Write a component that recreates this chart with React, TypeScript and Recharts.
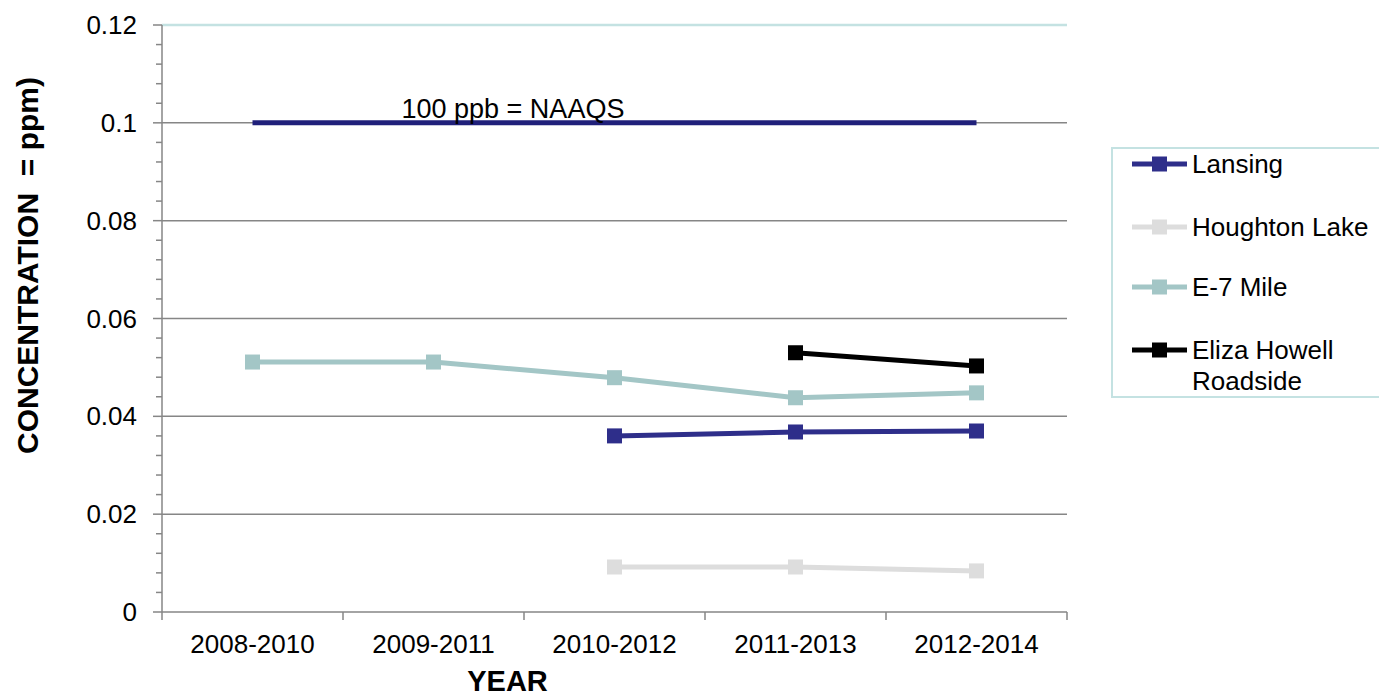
import React from 'react'
import { LineChart, Line, XAxis, YAxis, Legend, ReferenceLine } from 'recharts'

const years = ['2008-2010', '2009-2011', '2010-2012', '2011-2013', '2012-2014']
const naaqs = [0.1, 0.1, 0.1, 0.1, 0.1]
const lansing = [null, null, 0.036, 0.0368, 0.037]
const houghtonLake = [null, null, 0.0092, 0.0092, 0.0084]
const e7Mile = [0.0511, 0.0511, 0.0479, 0.0438, 0.0448]
const elizaHowell = [null, null, null, 0.053, 0.0503]
const yMajorTicks = [0, 0.02, 0.04, 0.06, 0.08, 0.1, 0.12]

const yTicks: number[] = []
yMajorTicks.forEach((v, i) => {
  if (i === 0) { yTicks.push(v); return }
  for (let k = 4; k >= 0; k--) yTicks.push(+(v - k * 0.004).toFixed(3))
})

const data = years.map((year, i) => ({
  year,
  naaqs: naaqs[i],
  lansing: lansing[i],
  houghton: houghtonLake[i],
  e7: e7Mile[i],
  eliza: elizaHowell[i],
}))

const W = 1379
const H = 698
const LEFT = 162
const RIGHT = 312
const TOP = 25
const BOTTOM = 86
const BAND = (W - LEFT - RIGHT) / years.length
const FONT = 'Liberation Sans, Arial, sans-serif'
const AXIS_GRAY = '#868686'
const BORDER = '#c4e2e2'

const series = [
  { key: 'lansing', name: 'Lansing', color: '#2e2e8a' },
  { key: 'houghton', name: 'Houghton Lake', color: '#dddddd' },
  { key: 'e7', name: 'E-7 Mile', color: '#a3c6c6' },
  { key: 'eliza', name: 'Eliza Howell\nRoadside', color: '#000000' },
]

const YTick = (props: any) => {
  const { x, y, payload } = props
  const major = yMajorTicks.some((m) => Math.abs(m - payload.value) < 1e-6)
  return (
    <g>
      <line x1={x - (major ? 9 : 6)} x2={x} y1={y} y2={y} stroke={AXIS_GRAY} strokeWidth={1.5} />
      {major && (
        <text x={x - 25} y={y} dy={9} textAnchor="end" fontSize={26} fontFamily={FONT} fill="#000">
          {String(payload.value)}
        </text>
      )}
    </g>
  )
}

const XTick = (props: any) => {
  const { x, y, payload, index } = props
  return (
    <g>
      <line x1={x - BAND / 2} x2={x - BAND / 2} y1={y} y2={y + 8} stroke={AXIS_GRAY} strokeWidth={1.5} />
      {index === years.length - 1 && (
        <line x1={x + BAND / 2} x2={x + BAND / 2} y1={y} y2={y + 8} stroke={AXIS_GRAY} strokeWidth={1.5} />
      )}
      <text x={x} y={y + 41} textAnchor="middle" fontSize={26} fontFamily={FONT} fill="#000">
        {payload.value}
      </text>
    </g>
  )
}

const SquareDot = (color: string) => (props: any) => {
  const { cx, cy, index, value } = props
  if (value == null || cy == null) return <g key={index} />
  return <rect key={index} x={cx - 7.5} y={cy - 7.5} width={15} height={15} fill={color} />
}

const NaaqsLabel = (props: any) => {
  const { x, y, index } = props
  if (index !== 1) return null
  return (
    <text x={x - 32} y={y - 5} fontSize={27} fontFamily={FONT} fill="#000">
      100 ppb = NAAQS
    </text>
  )
}

const LegendBox = () => (
  <svg width={RIGHT} height={256}>
    <rect x={45} y={2} width={320} height={249} fill="#fff" stroke={BORDER} strokeWidth={2} />
    {series.map((s, i) => {
      const cy = [18, 81, 141, 204][i]
      const lines = s.name.split('\n')
      return (
        <g key={s.key}>
          <line x1={65} x2={120} y1={cy} y2={cy} stroke={s.color} strokeWidth={5} />
          <rect x={85} y={cy - 7.5} width={15} height={15} fill={s.color} />
          {lines.map((l, j) => (
            <text key={j} x={125} y={cy + 9 + j * 31} fontSize={26} fontFamily={FONT} fill="#000">
              {l}
            </text>
          ))}
        </g>
      )
    })}
  </svg>
)

export default function App() {
  return (
    <div style={{ position: 'absolute', left: 0, top: 0, width: W, height: H, background: '#fff' }}>
      <LineChart width={W} height={H} data={data} margin={{ top: TOP, right: 0, bottom: 0, left: 0 }}>
        {yMajorTicks.slice(1, -1).map((v) => (
          <ReferenceLine key={v} y={v} stroke={AXIS_GRAY} strokeWidth={1.5} />
        ))}
        <ReferenceLine y={0.12} stroke={BORDER} strokeWidth={2.5} />
        <XAxis
          dataKey="year"
          axisLine={{ stroke: AXIS_GRAY, strokeWidth: 1.5 }}
          tickLine={false}
          tickSize={0}
          tickMargin={0}
          tick={<XTick />}
          interval={0}
          height={BOTTOM}
          padding={{ left: BAND / 2, right: BAND / 2 }}
          label={{ value: 'YEAR', position: 'insideBottom', offset: 7, fontSize: 29, fontWeight: 'bold', fontFamily: FONT, fill: '#000', dx: -107 }}
        />
        <YAxis
          domain={[0, 0.12]}
          ticks={yTicks}
          interval={0}
          width={LEFT}
          axisLine={{ stroke: AXIS_GRAY, strokeWidth: 1.5 }}
          tickLine={false}
          tickSize={0}
          tickMargin={0}
          tick={<YTick />}
          label={{
            value: 'CONCENTRATION\u00a0 = ppm)',
            angle: -90,
            position: 'insideLeft',
            offset: 0,
            dx: 27,
            dy: -53,
            fontSize: 30,
            fontWeight: 'bold',
            fontFamily: FONT,
            fill: '#000',
            style: { textAnchor: 'middle' },
          }}
        />
        <YAxis
          yAxisId="border"
          orientation="right"
          width={0}
          domain={[0, 1]}
          tick={false}
          tickLine={false}
          axisLine={{ stroke: BORDER, strokeWidth: 2.5 }}
        />
        <Legend
          layout="vertical"
          align="right"
          verticalAlign="top"
          content={<LegendBox />}
          wrapperStyle={{ width: RIGHT, top: 146, right: 0 }}
        />
        <Line
          dataKey="naaqs"
          stroke="#20207a"
          strokeWidth={5}
          dot={false}
          legendType="none"
          isAnimationActive={false}
          label={<NaaqsLabel />}
        />
        {series.map((s) => (
          <Line
            key={s.key}
            dataKey={s.key}
            name={s.name}
            stroke={s.color}
            strokeWidth={5}
            dot={SquareDot(s.color)}
            activeDot={false}
            isAnimationActive={false}
          />
        ))}
      </LineChart>
    </div>
  )
}
